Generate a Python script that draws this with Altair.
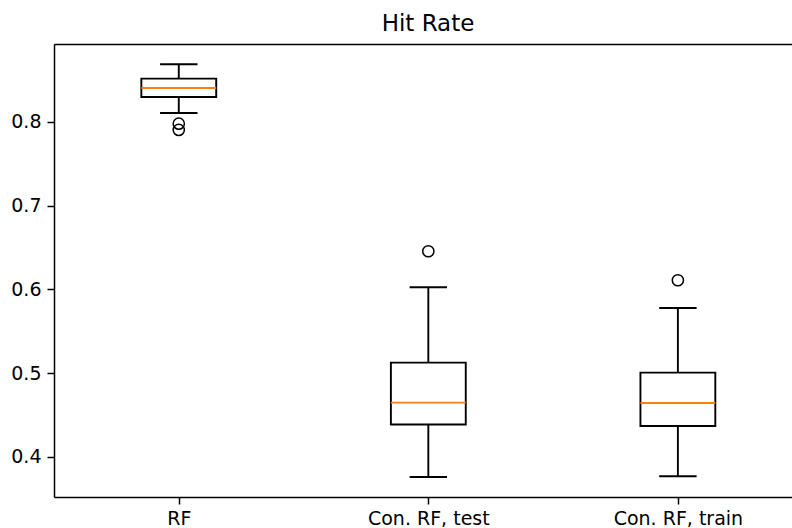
import altair as alt
import pandas as pd

labels = ["RF", "Con. RF, test", "Con. RF, train"]
positions = [1, 2, 3]
whislo = [0.8107, 0.3761, 0.3770]
q1 = [0.8299, 0.4387, 0.4370]
med = [0.8406, 0.4649, 0.4645]
q3 = [0.8518, 0.5127, 0.5007]
whishi = [0.8689, 0.6026, 0.5779]

flier_pos = [1, 1, 2, 3]
flier_val = [0.7980, 0.7905, 0.6456, 0.6110]

BOX_W = 0.3
CAP_W = 0.15

df = pd.DataFrame({"label": labels, "pos": positions, "lo": whislo, "q1": q1,
                   "med": med, "q3": q3, "hi": whishi})
fl = pd.DataFrame({"pos": flier_pos, "val": flier_val})

FONT = "DejaVu Sans"
label_expr = " : ".join(
    f"datum.value == {p} ? '{l}'" for p, l in zip(positions, labels)
) + " : ''"

xscale = alt.Scale(domain=[0.5, 3.4573], nice=False, zero=False)
yscale = alt.Scale(domain=[0.3522, 0.8931], nice=False, zero=False)

xaxis = alt.Axis(values=positions, labelExpr=label_expr, title=None, grid=False,
                 domainColor="black", domainWidth=1.5, tickColor="black",
                 tickWidth=1.5, tickSize=7, labelFont=FONT, labelFontSize=19,
                 labelColor="black", labelPadding=5, orient="bottom")
yaxis = alt.Axis(values=[0.4, 0.5, 0.6, 0.7, 0.8], format=".1f", title=None,
                 grid=False, domainColor="black", domainWidth=1.5,
                 tickColor="black", tickWidth=1.5, tickSize=7, labelFont=FONT,
                 labelFontSize=19, labelColor="black", labelPadding=6)

base = alt.Chart(df)

whisk_lo = base.mark_rule(color="black", strokeWidth=1.9).encode(
    x=alt.X("pos:Q", scale=xscale, axis=xaxis),
    y=alt.Y("lo:Q", scale=yscale, axis=yaxis),
    y2="q1:Q",
)
whisk_hi = base.mark_rule(color="black", strokeWidth=1.9).encode(
    x=alt.X("pos:Q", scale=xscale, axis=None),
    y=alt.Y("q3:Q", scale=yscale, axis=yaxis),
    y2="hi:Q",
)
caps_lo = base.transform_calculate(
    a=f"datum.pos - {CAP_W/2}", b=f"datum.pos + {CAP_W/2}"
).mark_rule(color="black", strokeWidth=1.9).encode(
    x=alt.X("a:Q", scale=xscale, axis=None), x2="b:Q",
    y=alt.Y("lo:Q", scale=yscale, axis=yaxis),
)
caps_hi = base.transform_calculate(
    a=f"datum.pos - {CAP_W/2}", b=f"datum.pos + {CAP_W/2}"
).mark_rule(color="black", strokeWidth=1.9).encode(
    x=alt.X("a:Q", scale=xscale, axis=None), x2="b:Q",
    y=alt.Y("hi:Q", scale=yscale, axis=yaxis),
)
boxes = base.transform_calculate(
    a=f"datum.pos - {BOX_W/2}", b=f"datum.pos + {BOX_W/2}"
).mark_rect(fill="white", stroke="black", strokeWidth=1.9).encode(
    x=alt.X("a:Q", scale=xscale, axis=None), x2="b:Q",
    y=alt.Y("q1:Q", scale=yscale, axis=yaxis), y2="q3:Q",
)
medians = base.transform_calculate(
    a=f"datum.pos - {BOX_W/2}", b=f"datum.pos + {BOX_W/2}"
).mark_rule(color="#ff7f0e", strokeWidth=1.9).encode(
    x=alt.X("a:Q", scale=xscale, axis=None), x2="b:Q",
    y=alt.Y("med:Q", scale=yscale, axis=yaxis),
)
fliers = alt.Chart(fl).mark_point(shape="circle", filled=False, color="black",
                                  size=125, strokeWidth=1.5, opacity=1).encode(
    x=alt.X("pos:Q", scale=xscale, axis=None),
    y=alt.Y("val:Q", scale=yscale, axis=yaxis),
)
top_spine = alt.Chart(df).mark_point(opacity=0).encode(
    x=alt.X("pos:Q", scale=xscale,
            axis=alt.Axis(orient="top", labels=False, ticks=False, title=None,
                          grid=False, domainColor="black", domainWidth=1.5)),
    y=alt.Y("med:Q", scale=yscale, axis=yaxis),
)

chart = alt.layer(
    whisk_lo, whisk_hi, caps_lo, caps_hi, boxes, medians, fliers, top_spine
).resolve_axis(x="independent").properties(
    width=738, height=453,
    title=alt.TitleParams("Hit Rate", font=FONT, fontSize=23, fontWeight="normal",
                          color="black", anchor="middle", dx=5, dy=23,
                          baseline="alphabetic", offset=13),
    autosize=alt.AutoSizeParams(type="none"),
    padding={"left": 54, "top": 44, "right": 0, "bottom": 31},
).configure_view(stroke=None).configure(background="white")

chart.save("out.html", embed_options={"renderer": "svg", "actions": False})
